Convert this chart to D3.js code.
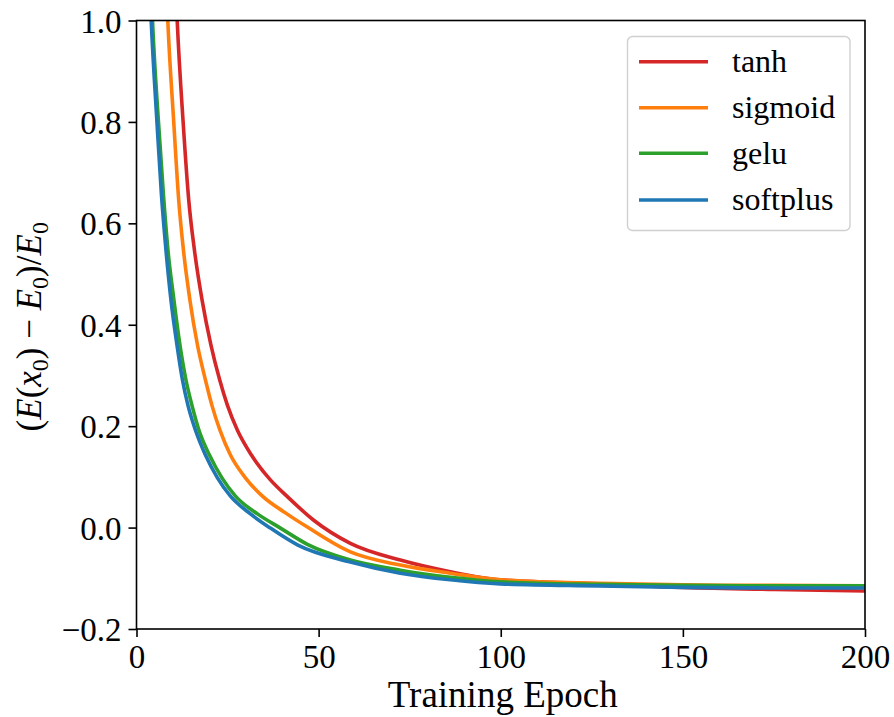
<!DOCTYPE html>
<html>
<head>
<meta charset="utf-8">
<script src="https://cdn.jsdelivr.net/npm/d3@7"></script>
<style>
  body { margin: 0; background: #fff; }
  svg { display: block; }
  text { font-family: "Liberation Serif", "Times New Roman", serif; fill: #000; }
</style>
</head>
<body>
<svg id="chart" width="894" height="717"></svg>
<script>
// ---- data (epoch, relative energy) ----
const seriesNames = ["tanh", "sigmoid", "gelu", "softplus"];
const seriesColors = ["#d62728", "#ff7f0e", "#2ca02c", "#1f77b4"];

const tanhPts = [[9,1.45],[11.17,1.0],[12.81,0.799],[14.35,0.645],[15.91,0.547],[18.02,0.448],[20.44,0.36],[22.85,0.291],[24.97,0.241],[27.71,0.192],[31.55,0.143],[36.76,0.094],[41.43,0.061],[48.56,0.015],[58.71,-0.031],[72.43,-0.064],[86.15,-0.087],[99.86,-0.103],[127,-0.111],[150,-0.118],[175,-0.122],[200,-0.125]];
const sigmoidPts = [[6.5,1.45],[8.59,1.0],[10.23,0.799],[11.6,0.645],[12.89,0.547],[14.68,0.448],[16.74,0.36],[18.93,0.291],[20.71,0.241],[22.91,0.192],[25.79,0.143],[29.9,0.098],[34.57,0.062],[40.88,0.029],[46.91,0.001],[58.71,-0.048],[72.43,-0.074],[86.15,-0.09],[99.86,-0.103],[127,-0.11],[150,-0.113],[175,-0.114],[200,-0.115]];
const geluPts = [[2.5,1.4],[4.39,1.0],[6.04,0.799],[7.41,0.655],[8.64,0.547],[10.29,0.448],[11.93,0.36],[13.58,0.291],[15.23,0.241],[17.15,0.192],[20.03,0.143],[23.46,0.098],[27.16,0.062],[33.2,0.027],[39.51,-0.001],[46.91,-0.033],[58.71,-0.064],[72.43,-0.084],[86.15,-0.098],[99.86,-0.107],[127,-0.112],[150,-0.114],[175,-0.115],[200,-0.115]];
const softplusPts = [[2,1.4],[4.03,1.0],[5.62,0.799],[6.86,0.655],[8.09,0.547],[9.47,0.448],[11.11,0.36],[12.62,0.291],[14.13,0.241],[16.19,0.192],[18.93,0.143],[22.22,0.098],[25.79,0.062],[31.28,0.027],[36.76,-0.001],[44.17,-0.034],[58.71,-0.068],[72.43,-0.09],[86.15,-0.103],[99.86,-0.111],[127,-0.115],[150,-0.118],[175,-0.119],[200,-0.119]];
const allSeries = [tanhPts, sigmoidPts, geluPts, softplusPts];

const xTicks = [0, 50, 100, 150, 200];
const yTicks = [-0.2, 0.0, 0.2, 0.4, 0.6, 0.8, 1.0];
const xLabel = "Training Epoch";

// ---- layout ----
const L = 136.5, T = 20.5, W = 728.5, H = 608.5;
const svg = d3.select("#chart");
const x = d3.scaleLinear().domain([0, 200]).range([L, L + W]);
const y = d3.scaleLinear().domain([-0.2, 1.0]).range([T + H, T]);

svg.append("defs").append("clipPath").attr("id", "clip")
  .append("rect").attr("x", L).attr("y", T).attr("width", W).attr("height", H);

const line = d3.line().x(d => x(d[0])).y(d => y(d[1])).curve(d3.curveMonotoneX);
const g = svg.append("g").attr("clip-path", "url(#clip)");
allSeries.forEach((s, i) => {
  g.append("path").datum(s).attr("d", line)
    .attr("fill", "none").attr("stroke", seriesColors[i])
    .attr("stroke-width", 3.6).attr("stroke-linejoin", "round");
});

// frame
svg.append("rect").attr("x", L).attr("y", T).attr("width", W).attr("height", H)
  .attr("fill", "none").attr("stroke", "#000").attr("stroke-width", 1.6);

// axes
const fmtY = d => (d < 0 ? "\u2212" : "") + Math.abs(d).toFixed(1);
const xAxis = svg.append("g").attr("transform", `translate(0,${T + H})`)
  .call(d3.axisBottom(x).tickValues(xTicks).tickSize(8).tickPadding(8).tickFormat(d3.format("d")));
const yAxis = svg.append("g").attr("transform", `translate(${L},0)`)
  .call(d3.axisLeft(y).tickValues(yTicks).tickSize(8).tickPadding(7).tickFormat(fmtY));
[xAxis, yAxis].forEach(a => {
  a.select(".domain").remove();
  a.selectAll(".tick line").attr("stroke", "#000").attr("stroke-width", 1.6);
  a.selectAll(".tick text").attr("font-size", 33).attr("font-family", "Liberation Serif").attr("fill", "#000");
});
yAxis.selectAll(".tick text").attr("dy", "0.35em");

// x label
svg.append("text").attr("x", L + W / 2 + 2).attr("y", 707).attr("text-anchor", "middle")
  .attr("font-size", 37).text(xLabel);

// y label (math)
const yl = svg.append("text").attr("transform", `translate(41,${T + H / 2 + 2}) rotate(-90)`)
  .attr("text-anchor", "middle").attr("font-size", 35);
const parts = [["(", false, false], ["E", true, false], ["(", false, false], ["x", true, false], ["0", false, true],
  [")", false, false], [" \u2212 ", false, false], ["E", true, false], ["0", false, true], [")/", false, false],
  ["E", true, false], ["0", false, true]];
let prevSub = false;
parts.forEach(([t, it, sub]) => {
  const ts = yl.append("tspan").text(t);
  if (it) ts.attr("font-style", "italic");
  if (sub) { ts.attr("font-size", 24).attr("dy", 7); prevSub = true; }
  else if (prevSub) { ts.attr("dy", -7); prevSub = false; }
});

// legend
const lg = svg.append("g");
lg.append("rect").attr("x", 627.5).attr("y", 36.5).attr("width", 222.5).attr("height", 194)
  .attr("rx", 5).attr("fill", "#fff").attr("stroke", "#d0d0d0").attr("stroke-width", 1.4);
const rowY = [61.7, 107.7, 153.3, 200];
seriesNames.forEach((n, i) => {
  lg.append("line").attr("x1", 639).attr("x2", 708).attr("y1", rowY[i]).attr("y2", rowY[i])
    .attr("stroke", seriesColors[i]).attr("stroke-width", 3.5);
  lg.append("text").attr("x", 732).attr("y", rowY[i]).attr("dy", "0.32em")
    .attr("font-size", 32).text(n);
});
</script>
</body>
</html>
